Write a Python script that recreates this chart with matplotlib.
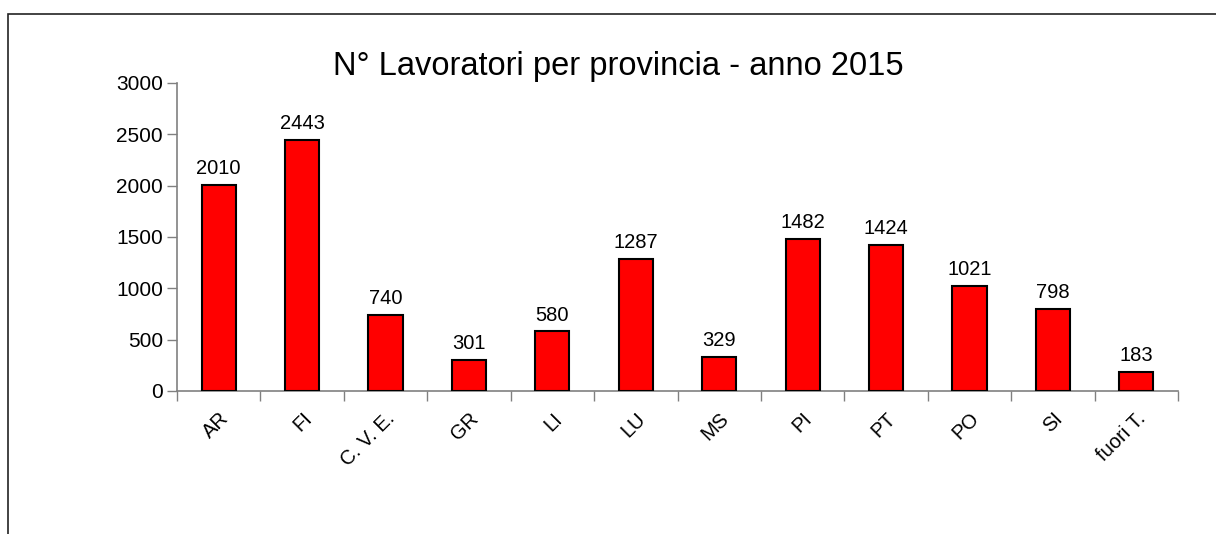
import matplotlib
matplotlib.use("Agg")
import matplotlib.pyplot as plt
from matplotlib.patches import Rectangle
import numpy as np

province = ["AR", "FI", "C. V. E.", "GR", "LI", "LU", "MS", "PI", "PT", "PO", "SI", "fuori T."]
lavoratori = [2010, 2443, 740, 301, 580, 1287, 329, 1482, 1424, 1021, 798, 183]
y_ticks = [0, 500, 1000, 1500, 2000, 2500, 3000]

plt.rcParams["font.family"] = ["Liberation Sans", "DejaVu Sans"]

fig = plt.figure(figsize=(12.16, 5.34), dpi=100)
ax = fig.add_axes([177/1216, 1 - 391/534, (1178-177)/1216, (391-83)/534])

x = np.arange(len(province))
ax.bar(x, lavoratori, width=0.41, color="#ff0000", edgecolor="black", linewidth=1.5, zorder=3)

for xi, v in zip(x, lavoratori):
    ax.annotate(str(v), (xi, v), xytext=(0, 5), textcoords="offset points",
                ha="center", va="bottom", fontsize=14.5)

ax.set_xlim(-0.5, len(province) - 0.5)
ax.set_ylim(0, 3000)
ax.set_yticks(y_ticks)
ax.tick_params(axis="y", labelsize=15, length=7, width=1, color="#808080", pad=3)

# labels at category centres, tick marks at the boundaries
ax.set_xticks(x)
ax.set_xticklabels(province, rotation=45, ha="right", va="top", rotation_mode="anchor", fontsize=14.5)
ax.tick_params(axis="x", which="major", length=0, pad=13)
ax.set_xticks(np.arange(len(province) + 1) - 0.5, minor=True)
ax.tick_params(axis="x", which="minor", length=7, width=1, color="#808080")

for s in ["top", "right"]:
    ax.spines[s].set_visible(False)
for s in ["left", "bottom"]:
    ax.spines[s].set_color("#808080")
    ax.spines[s].set_linewidth(1.2)

fig.text(618/1216, 1 - 67/534, "N° Lavoratori per provincia - anno 2015", ha="center", va="center", fontsize=23.5)

# chart frame
fig.patches.append(Rectangle((8/1216, -0.1), 1.2, 1.1 - 14/534, transform=fig.transFigure,
                             fill=False, edgecolor="#222222", linewidth=1.2))

fig.savefig("out.png", dpi=100)
